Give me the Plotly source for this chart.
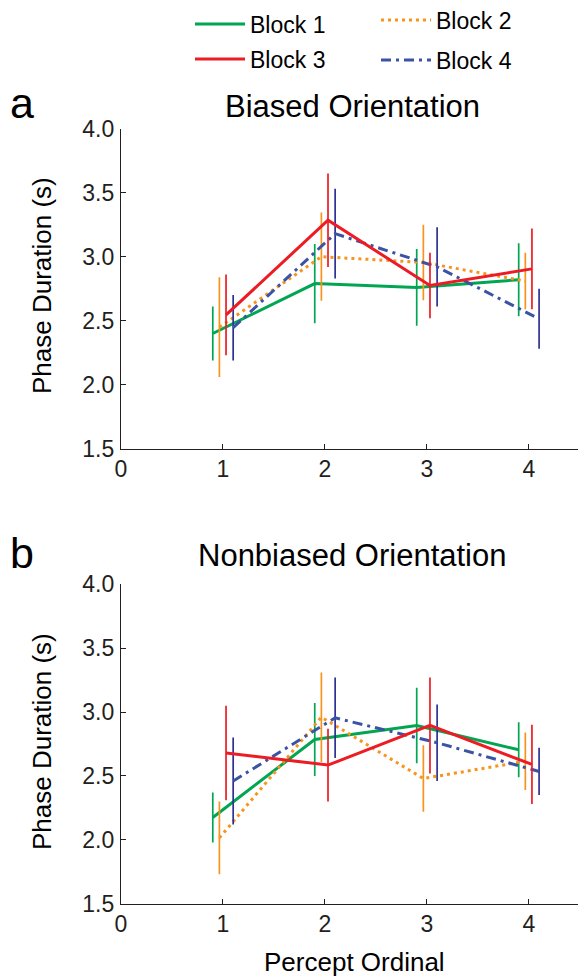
import plotly.graph_objects as go

# ---------------- data ----------------
ordinals = [1, 2, 3, 4]
block_names = ["Block 1", "Block 2", "Block 3", "Block 4"]

# Biased orientation (top panel)
biased_b1 = [2.40, 2.79, 2.76, 2.82]
biased_b1_err = [0.21, 0.31, 0.30, 0.285]
biased_b2 = [2.45, 3.00, 2.955, 2.81]
biased_b2_err = [0.39, 0.345, 0.295, 0.22]
biased_b3 = [2.545, 3.285, 2.775, 2.905]
biased_b3_err = [0.315, 0.365, 0.255, 0.315]
biased_b4 = [2.445, 3.18, 2.92, 2.515]
biased_b4_err = [0.255, 0.35, 0.31, 0.235]

# Nonbiased orientation (bottom panel)
nonbiased_b1 = [2.175, 2.785, 2.895, 2.705]
nonbiased_b1_err = [0.195, 0.285, 0.295, 0.215]
nonbiased_b2 = [2.015, 2.96, 2.48, 2.615]
nonbiased_b2_err = [0.285, 0.35, 0.26, 0.225]
nonbiased_b3 = [2.68, 2.585, 2.895, 2.59]
nonbiased_b3_err = [0.37, 0.285, 0.375, 0.31]
nonbiased_b4 = [2.46, 2.955, 2.76, 2.535]
nonbiased_b4_err = [0.34, 0.315, 0.30, 0.185]

y_ticks = [1.5, 2.0, 2.5, 3.0, 3.5, 4.0]
x_ticks = [0, 1, 2, 3, 4]

# ---------------- style ----------------
# the page body has an 8px margin, so the figure is made 8px smaller and
# all page positions below are shifted by that offset
OFF = 8
W, H = 586 - OFF, 977 - OFF
LEFT = 121 - OFF
FONT = "Liberation Sans, Arial, Helvetica, sans-serif"
TXT = "#231F20"
dodge = [-0.10, -0.035, 0.03, 0.10]
line_colors = ["#00A651", "#F7941D", "#ED1C24", "#3A53A4"]
err_colors = ["#00A651", "#F7941D", "#ED1C24", "#2E3192"]
dashes = ["solid", "3px,4px", "solid", "10px,5px,3px,5px"]
draw_order = [0, 1, 3, 2]


def ypaper(py):
    return 1 - (py - OFF) / H


def xpaper(px):
    return (px - OFF - LEFT) / (W - LEFT)


def xcont(px):
    return (px - OFF) / W


fig = go.Figure()

panels = [
    ([biased_b1, biased_b2, biased_b3, biased_b4],
     [biased_b1_err, biased_b2_err, biased_b3_err, biased_b4_err], "x", "y"),
    ([nonbiased_b1, nonbiased_b2, nonbiased_b3, nonbiased_b4],
     [nonbiased_b1_err, nonbiased_b2_err, nonbiased_b3_err, nonbiased_b4_err], "x2", "y2"),
]
legend_ids = ["legend", "legend2", "legend3", "legend4"]

for p, (vals, errs, xa, ya) in enumerate(panels):
    for i in draw_order:
        fig.add_trace(go.Scatter(
            x=[o + dodge[i] for o in ordinals],
            y=vals[i],
            mode="lines",
            name=block_names[i],
            line=dict(color=line_colors[i], width=3, dash=dashes[i]),
            error_y=dict(type="data", array=errs[i], visible=True, width=0,
                         thickness=1.7, color=err_colors[i]),
            xaxis=xa, yaxis=ya,
            showlegend=(p == 0),
            legend=legend_ids[i],
            hoverinfo="skip",
        ))

axis_common = dict(
    showgrid=False, zeroline=False, showline=True, linecolor=TXT, linewidth=1.3,
    ticks="inside", ticklen=5, tickwidth=1.3, tickcolor=TXT, automargin=False,
    tickfont=dict(family=FONT, size=23, color=TXT),
)

top_dom = [ypaper(448.7), ypaper(128.7)]
bot_dom = [ypaper(903.7), ypaper(584.3)]

fig.update_layout(
    width=W, height=H,
    margin=dict(l=LEFT, r=0, t=0, b=0, autoexpand=False),
    paper_bgcolor="white", plot_bgcolor="white",
    xaxis=dict(domain=[0, 1], range=[0, 4.56], tickvals=x_ticks, anchor="y", **axis_common),
    yaxis=dict(domain=top_dom, range=[1.5, 4.0], tickvals=y_ticks, tickformat=".1f",
               anchor="x", ticklabelstandoff=1, **axis_common),
    xaxis2=dict(domain=[0, 1], range=[0, 4.56], tickvals=x_ticks, anchor="y2", **axis_common),
    yaxis2=dict(domain=bot_dom, range=[1.5, 4.0], tickvals=y_ticks, tickformat=".1f",
                anchor="x2", ticklabelstandoff=1, **axis_common),
)

leg_common = dict(font=dict(family=FONT, size=23, color="black"), bgcolor="rgba(0,0,0,0)",
                  borderwidth=0, xanchor="left", yanchor="middle", itemwidth=50,
                  xref="container", yref="container",
                  itemclick=False, itemdoubleclick=False)
fig.update_layout(
    legend=dict(x=xcont(190), y=ypaper(24), **leg_common),
    legend2=dict(x=xcont(376), y=ypaper(20), **leg_common),
    legend3=dict(x=xcont(190), y=ypaper(59), **leg_common),
    legend4=dict(x=xcont(376), y=ypaper(60), **leg_common),
)

annos = [
    dict(text="Biased Orientation", x=xpaper(352), y=ypaper(107), size=31),
    dict(text="Nonbiased Orientation", x=xpaper(352), y=ypaper(555), size=31),
    dict(text="a", x=xpaper(22), y=ypaper(103), size=43),
    dict(text="b", x=xpaper(22), y=ypaper(553), size=43),
    dict(text="Percept Ordinal", x=xpaper(354), y=ypaper(962), size=26),
]
for a in annos:
    fig.add_annotation(text=a["text"], x=a["x"], y=a["y"], xref="paper", yref="paper",
                       xanchor="center", yanchor="middle", showarrow=False,
                       font=dict(family=FONT, size=a["size"], color="black"))
for yc in [286, 742]:
    fig.add_annotation(text="Phase Duration (s)", x=xpaper(42), y=ypaper(yc),
                       xref="paper", yref="paper", xanchor="center", yanchor="middle",
                       textangle=-90, showarrow=False,
                       font=dict(family=FONT, size=26, color="black"))

fig.write_html("out.html")
